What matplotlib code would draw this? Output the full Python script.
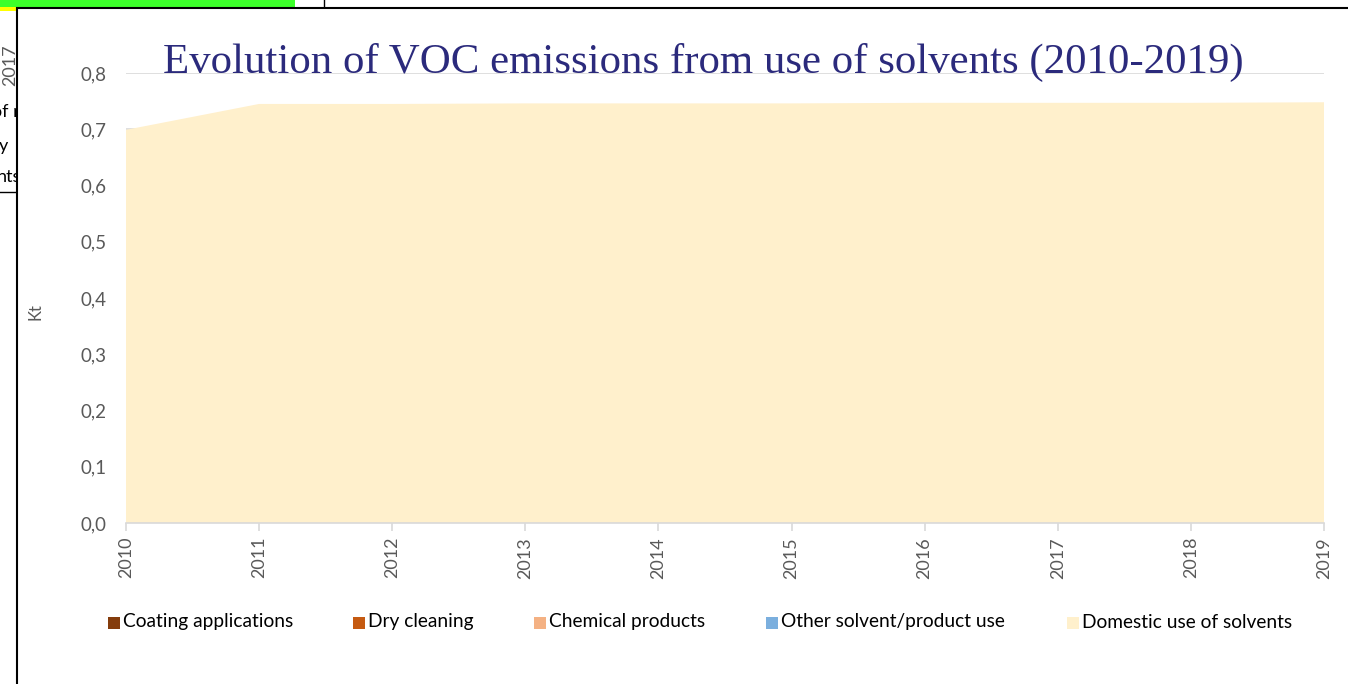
import matplotlib
matplotlib.use('Agg')
import matplotlib.pyplot as plt
from matplotlib.patches import Rectangle

years = [2010, 2011, 2012, 2013, 2014, 2015, 2016, 2017, 2018, 2019]
series_names = ['Coating applications', 'Dry cleaning', 'Chemical products',
                'Other solvent/product use', 'Domestic use of solvents']
coating = [0, 0, 0, 0, 0, 0, 0, 0, 0, 0]
dry_cleaning = [0, 0, 0, 0, 0, 0, 0, 0, 0, 0]
chemical = [0, 0, 0, 0, 0, 0, 0, 0, 0, 0]
other_use = [0, 0, 0, 0, 0, 0, 0, 0, 0, 0]
domestic = [0.699, 0.745, 0.745, 0.746, 0.746, 0.746, 0.747, 0.747, 0.747, 0.748]
colors = ['#843C0C', '#C55A11', '#F4B183', '#7BAFDE', '#FFF0CC']

W, H = 1348, 684
fig = plt.figure(figsize=(W / 100, H / 100), dpi=100)


def fx(px):
    return px / W


def fy(py):
    return 1 - py / H


# bits of the spreadsheet behind the chart
fig.patches.append(Rectangle((0, fy(8)), fx(295), 8 / H, transform=fig.transFigure,
                             facecolor='#3CFF2A', edgecolor='none', zorder=-3))
fig.patches.append(Rectangle((0, fy(11)), fx(17), 4 / H, transform=fig.transFigure,
                             facecolor='#FFFF00', edgecolor='none', zorder=-3))
fig.add_artist(plt.Line2D([fx(324), fx(324)], [1, fy(8)], color='black', lw=1, zorder=-3))
fig.add_artist(plt.Line2D([0, fx(17)], [fy(192), fy(192)], color='black', lw=1, zorder=-3))
fig.text(fx(2), fy(65), '2017', rotation=90, fontsize=13, color='#595959',
         family='Lato', ha='left', va='center', zorder=-2)
fig.text(fx(-8), fy(112), 'of m', fontsize=13, family='Lato', va='center', zorder=-2)
fig.text(fx(-1), fy(146), 'y', fontsize=13, family='Lato', va='center', zorder=-2)
fig.text(fx(-3), fy(177), 'nts', fontsize=13, family='Lato', va='center', zorder=-2)

# chart frame
fig.patches.append(Rectangle((fx(17), -0.01), 1, fy(8) + 0.01, transform=fig.transFigure,
                             facecolor='white', edgecolor='black', lw=1.5, zorder=-1))

ax = fig.add_axes([fx(126), fy(523), fx(1324) - fx(126), fy(73) - fy(523)])
ax.set_zorder(0)
ax.patch.set_alpha(0)
ax.stackplot(years, coating, dry_cleaning, chemical, other_use, domestic,
             colors=colors, linewidth=0, zorder=2)

ax.set_xlim(2010, 2019)
ax.set_ylim(0, 0.8)
ax.set_yticks([i / 10 for i in range(9)])
ax.set_yticklabels([('%.1f' % (i / 10)).replace('.', ',') for i in range(9)])
ax.set_xticks(years)
ax.set_xticklabels([str(y) for y in years], rotation=90)
ax.yaxis.grid(True, color='#D9D9D9', lw=1.2, zorder=1)
ax.set_axisbelow(True)
for s in ['top', 'right', 'left']:
    ax.spines[s].set_visible(False)
ax.spines['bottom'].set_color('#D9D9D9')
ax.spines['bottom'].set_linewidth(1.2)
ax.spines['bottom'].set_zorder(3)
ax.tick_params(axis='y', length=0, pad=14, labelsize=13.5, labelcolor='#595959')
ax.tick_params(axis='x', length=6, color='#D9D9D9', width=1.2, pad=4,
               labelsize=13, labelcolor='#595959')
for lab in ax.get_xticklabels() + ax.get_yticklabels():
    lab.set_family('Lato')

fig.text(fx(35), fy(312), 'Kt', rotation=90, fontsize=12, color='#595959',
         family='Lato', ha='center', va='center')

fig.text(fx(703), fy(62), 'Evolution of VOC emissions from use of solvents (2010-2019)',
         fontsize=30.9, color='#2B2A7C', family='Liberation Serif',
         ha='center', va='center')

# legend laid out like the Excel one
legend_x = [108, 353, 534, 766, 1067]
for x, name, c in zip(legend_x, series_names, colors):
    fig.patches.append(Rectangle((fx(x), fy(629)), fx(12), 12 / H, transform=fig.transFigure,
                                 facecolor=c, edgecolor='none'))
    fig.text(fx(x + 15), fy(622), name, fontsize=13.8, family='Lato',
             color='black', ha='left', va='center')

fig.savefig('out.png', dpi=100)
